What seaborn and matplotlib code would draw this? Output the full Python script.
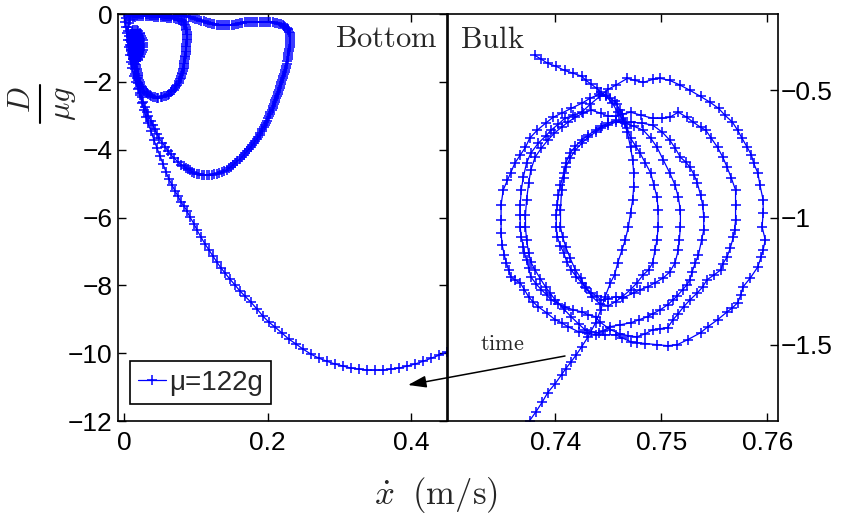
import numpy as np
import matplotlib
matplotlib.use('Agg')
import matplotlib.pyplot as plt
import seaborn as sns
from matplotlib.patches import FancyArrowPatch
from matplotlib.lines import Line2D

sns.set_style('ticks')
plt.rcParams['font.family'] = ['Liberation Sans', 'DejaVu Sans']
plt.rcParams['mathtext.fontset'] = 'cm'

# ---------------- data: (velocity m/s, D/(mu g)) ----------------
legend_label = 'μ=122g'

# Bulk (right panel), in time order
bulk_tail = [(0.7381,-0.363),(0.7387,-0.378),(0.7393,-0.394),(0.7401,-0.406),(0.7409,-0.422),(0.7417,-0.433),
             (0.7425,-0.445),(0.7429,-0.461),(0.7434,-0.476),(0.7439,-0.492),(0.7443,-0.508),(0.7448,-0.520),
             (0.7452,-0.531),(0.7456,-0.543),(0.7458,-0.555),(0.7461,-0.578),(0.7464,-0.610)]
bulk_loop5 = [(0.7468,-0.649),(0.7471,-0.688),(0.7476,-0.720),(0.7480,-0.747),(0.7485,-0.786),(0.7490,-0.825),
              (0.7493,-0.873),(0.7496,-0.920),(0.7497,-0.971),(0.7497,-1.037),(0.7496,-1.088),(0.7494,-1.127),
              (0.7492,-1.178),(0.7488,-1.206),(0.7483,-1.225),(0.7477,-1.257),(0.7471,-1.284),(0.7463,-1.312),
              (0.7457,-1.331),(0.7450,-1.347),(0.7442,-1.339),(0.7435,-1.312),(0.7428,-1.273),(0.7424,-1.237),
              (0.7419,-1.206),(0.7414,-1.159),(0.7410,-1.116),(0.7407,-1.076),(0.7405,-1.037),(0.7405,-0.971),
              (0.7406,-0.892),(0.7408,-0.845),(0.7410,-0.802),(0.7414,-0.767),(0.7419,-0.735),(0.7425,-0.708),
              (0.7431,-0.684),(0.7438,-0.665),(0.7443,-0.649),(0.7450,-0.637),(0.7457,-0.625)]
bulk_loop4 = [(0.7466,-0.629),(0.7474,-0.641),(0.7483,-0.657),(0.7490,-0.688),(0.7496,-0.724),(0.7502,-0.775),
              (0.7508,-0.825),(0.7513,-0.873),(0.7516,-0.920),(0.7518,-0.971),(0.7518,-1.037),(0.7517,-1.088),
              (0.7516,-1.127),(0.7513,-1.178),(0.7508,-1.214),(0.7502,-1.237),(0.7494,-1.257),(0.7487,-1.273),
              (0.7480,-1.284),(0.7474,-1.296),(0.7464,-1.316),(0.7457,-1.312),(0.7450,-1.320),(0.7443,-1.324),
              (0.7439,-1.308),(0.7434,-1.296),(0.7429,-1.276),(0.7425,-1.257),(0.7420,-1.233),(0.7415,-1.206),
              (0.7411,-1.175),(0.7408,-1.139),(0.7405,-1.112),(0.7402,-1.076),(0.7401,-1.037),(0.7401,-0.990),
              (0.7402,-0.951),(0.7403,-0.912),(0.7405,-0.873),(0.7408,-0.825),(0.7410,-0.786),(0.7414,-0.747),
              (0.7419,-0.720),(0.7425,-0.696),(0.7431,-0.676),(0.7438,-0.657),(0.7444,-0.641),(0.7450,-0.629),
              (0.7457,-0.618)]
bulk_loop3 = [(0.7463,-0.625),(0.7471,-0.625),(0.7482,-0.629),(0.7492,-0.637),(0.7501,-0.665),(0.7508,-0.696),
              (0.7513,-0.727),(0.7518,-0.763),(0.7523,-0.782),(0.7527,-0.802),(0.7531,-0.833),(0.7534,-0.865),
              (0.7537,-0.912),(0.7539,-0.951),(0.7540,-0.998),(0.7540,-1.049),(0.7538,-1.088),(0.7535,-1.147),
              (0.7532,-1.178),(0.7529,-1.214),(0.7527,-1.245),(0.7524,-1.265),(0.7520,-1.284),(0.7515,-1.308),
              (0.7511,-1.324),(0.7506,-1.343),(0.7499,-1.363),(0.7492,-1.378),(0.7487,-1.390),(0.7479,-1.402),
              (0.7471,-1.414),(0.7461,-1.422),(0.7452,-1.429),(0.7445,-1.445),(0.7441,-1.453),(0.7434,-1.449),
              (0.7428,-1.441),(0.7422,-1.418),(0.7415,-1.390),(0.7408,-1.359),(0.7400,-1.324),(0.7395,-1.296),
              (0.7391,-1.273),(0.7386,-1.241),(0.7381,-1.206),(0.7377,-1.175),(0.7375,-1.139),(0.7373,-1.088),
              (0.7372,-1.037),(0.7372,-0.990),(0.7373,-0.931),(0.7375,-0.865),(0.7377,-0.814),(0.7381,-0.763),
              (0.7387,-0.727),(0.7393,-0.696),(0.7399,-0.669),(0.7406,-0.645),(0.7412,-0.625),(0.7419,-0.606),
              (0.7426,-0.590),(0.7434,-0.578),(0.7443,-0.590),(0.7450,-0.602)]
bulk_loop2 = [(0.7457,-0.602),(0.7463,-0.594),(0.7471,-0.586),(0.7481,-0.598),(0.7492,-0.610),(0.7501,-0.610),
              (0.7508,-0.606),(0.7516,-0.586),(0.7524,-0.606),(0.7530,-0.625),(0.7537,-0.645),(0.7542,-0.657),
              (0.7547,-0.688),(0.7553,-0.724),(0.7558,-0.763),(0.7562,-0.802),(0.7566,-0.845),(0.7570,-0.892),
              (0.7570,-0.951),(0.7570,-1.010),(0.7569,-1.049),(0.7568,-1.076),(0.7565,-1.120),(0.7562,-1.155),
              (0.7558,-1.182),(0.7556,-1.206),(0.7550,-1.225),(0.7543,-1.245),(0.7539,-1.273),(0.7534,-1.296),
              (0.7527,-1.324),(0.7521,-1.351),(0.7516,-1.378),(0.7511,-1.402),(0.7506,-1.433),(0.7499,-1.437),
              (0.7492,-1.441),(0.7485,-1.457),(0.7477,-1.469),(0.7469,-1.465),(0.7461,-1.457),(0.7452,-1.441),
              (0.7442,-1.410),(0.7438,-1.390),(0.7431,-1.382),(0.7425,-1.371),(0.7417,-1.363),(0.7409,-1.351),
              (0.7403,-1.339),(0.7396,-1.324),(0.7392,-1.304),(0.7387,-1.284),(0.7382,-1.261),(0.7377,-1.233),
              (0.7375,-1.198),(0.7373,-1.167),(0.7371,-1.139),(0.7370,-1.116),(0.7368,-1.076),(0.7367,-1.037),
              (0.7367,-0.990),(0.7367,-0.951),(0.7368,-0.892),(0.7370,-0.841),(0.7373,-0.786),(0.7377,-0.747),
              (0.7384,-0.708),(0.7391,-0.680),(0.7396,-0.657),(0.7403,-0.633),(0.7409,-0.610),(0.7417,-0.598),
              (0.7425,-0.586),(0.7433,-0.555),(0.7442,-0.524)]
bulk_loop1 = [(0.7450,-0.496),(0.7457,-0.480),(0.7468,-0.453),(0.7475,-0.461),(0.7483,-0.469),(0.7492,-0.457),
              (0.7499,-0.453),(0.7508,-0.461),(0.7518,-0.480),(0.7527,-0.500),(0.7537,-0.524),(0.7546,-0.547),
              (0.7554,-0.571),(0.7560,-0.598),(0.7567,-0.625),(0.7572,-0.657),(0.7576,-0.688),(0.7581,-0.724),
              (0.7585,-0.755),(0.7587,-0.786),(0.7591,-0.825),(0.7593,-0.873),(0.7596,-0.931),(0.7596,-0.982),
              (0.7595,-1.037),(0.7598,-1.088),(0.7596,-1.127),(0.7594,-1.155),(0.7591,-1.194),(0.7584,-1.237),
              (0.7577,-1.273),(0.7575,-1.304),(0.7572,-1.335),(0.7567,-1.355),(0.7562,-1.371),(0.7553,-1.402),
              (0.7544,-1.429),(0.7537,-1.453),(0.7525,-1.480),(0.7515,-1.500),(0.7506,-1.504),(0.7496,-1.500),
              (0.7485,-1.496),(0.7477,-1.492),(0.7471,-1.488),(0.7463,-1.473),(0.7457,-1.461),(0.7447,-1.461),
              (0.7438,-1.461),(0.7430,-1.453),(0.7422,-1.449),(0.7412,-1.429),(0.7406,-1.414),(0.7400,-1.402),
              (0.7392,-1.375),(0.7384,-1.351),(0.7379,-1.331),(0.7375,-1.312),(0.7371,-1.284),(0.7367,-1.257),
              (0.7362,-1.245),(0.7358,-1.233),(0.7356,-1.206),(0.7354,-1.178),(0.7352,-1.147),(0.7350,-1.108),
              (0.7349,-1.061),(0.7349,-1.010),(0.7349,-0.951),(0.7351,-0.892),(0.7355,-0.853),(0.7358,-0.825),
              (0.7362,-0.786),(0.7367,-0.755),(0.7372,-0.724),(0.7376,-0.688),(0.7383,-0.657),(0.7391,-0.629),
              (0.7398,-0.606),(0.7406,-0.590),(0.7415,-0.571),(0.7425,-0.551),(0.7433,-0.531),(0.7441,-0.516),
              (0.7448,-0.524),(0.7454,-0.551)]
bulk_exit = [(0.7459,-0.586),(0.7464,-0.618),(0.7468,-0.665),(0.7471,-0.724),(0.7473,-0.775),(0.7474,-0.825),
             (0.7474,-0.880),(0.7473,-0.931),(0.7471,-0.982),(0.7469,-1.037),(0.7466,-1.088),(0.7463,-1.127),
             (0.7459,-1.178),(0.7456,-1.225),(0.7452,-1.257),(0.7447,-1.312),(0.7443,-1.363),(0.7438,-1.414),
             (0.7431,-1.469),(0.7425,-1.508),(0.7420,-1.539),(0.7415,-1.567),(0.7410,-1.594),(0.7406,-1.618),
             (0.7400,-1.653),(0.7393,-1.688),(0.7388,-1.724),(0.7382,-1.763),(0.7376,-1.798),(0.7371,-1.833)]

# Bottom (left panel), in time order
bottom_fall = [(0.463,-9.84),(0.4502,-9.97),(0.4390,-10.06),(0.4279,-10.15),(0.4167,-10.24),(0.4056,-10.32),
               (0.3944,-10.38),(0.3833,-10.44),(0.3721,-10.47),(0.3610,-10.50),(0.3498,-10.50),(0.3387,-10.50),
               (0.3275,-10.47),(0.3164,-10.44),(0.3052,-10.38),(0.2941,-10.32),(0.2829,-10.24),(0.2718,-10.15),
               (0.2606,-10.03),(0.2495,-9.88),(0.2397,-9.73),(0.2300,-9.59),(0.2202,-9.41),(0.2105,-9.23),
               (0.2021,-9.09),(0.1937,-8.91),(0.1854,-8.70),(0.1770,-8.50),(0.1686,-8.32),(0.1617,-8.17),
               (0.1547,-7.99),(0.1477,-7.82),(0.1408,-7.64),(0.1352,-7.49),(0.1296,-7.32),(0.1240,-7.14),
               (0.1185,-6.96),(0.1129,-6.78),(0.1073,-6.58),(0.1017,-6.37),(0.0976,-6.19),(0.0920,-5.99),
               (0.0878,-5.81),(0.0836,-5.66),(0.0794,-5.55),(0.0753,-5.37),(0.0711,-5.22),(0.0669,-5.04),
               (0.0627,-4.87),(0.0585,-4.66),(0.0544,-4.42),(0.0502,-4.19),(0.0460,-3.95),(0.0418,-3.72),
               (0.0376,-3.45),(0.0334,-3.22),(0.0307,-3.04),(0.0279,-2.83),(0.0251,-2.63),(0.0223,-2.39),
               (0.0195,-2.21),(0.0167,-2.01),(0.0139,-1.83),(0.0111,-1.59),(0.0098,-1.42),(0.0084,-1.21),
               (0.0070,-0.97),(0.0056,-0.77),(0.0042,-0.56),(0.0028,-0.38),(0.0014,-0.24),(0.0028,-0.12)]
bottom_loopA = [(0.006,-0.05),(0.009,-0.04),(0.012,-0.03),(0.015,-0.02),(0.018,-0.02),(0.021,-0.01),(0.024,-0.01),
                (0.027,-0.01),(0.030,-0.01),(0.033,-0.01),(0.036,-0.02),(0.039,-0.02),(0.042,-0.03),(0.045,-0.03),
                (0.048,-0.04),(0.051,-0.04),(0.054,-0.05),(0.057,-0.05),(0.060,-0.06),(0.063,-0.06),(0.066,-0.06),
                (0.069,-0.06),(0.072,-0.05),(0.075,-0.05),(0.078,-0.04),(0.081,-0.04),(0.084,-0.05),(0.087,-0.06),
                (0.090,-0.08),(0.093,-0.10),(0.096,-0.12),(0.099,-0.14),(0.102,-0.16),(0.105,-0.18),(0.108,-0.20),
                (0.111,-0.22),(0.114,-0.24),(0.117,-0.26),(0.120,-0.27),(0.123,-0.29),(0.126,-0.30),(0.129,-0.31),
                (0.132,-0.32),(0.135,-0.33),(0.138,-0.33),(0.141,-0.33),(0.144,-0.33),(0.147,-0.33),(0.150,-0.32),
                (0.153,-0.31),(0.156,-0.30),(0.159,-0.28),(0.162,-0.27),(0.165,-0.26),(0.168,-0.25),(0.171,-0.24),
                (0.174,-0.24),(0.177,-0.23),(0.180,-0.23),(0.183,-0.23),(0.186,-0.23),(0.189,-0.23),(0.192,-0.24),
                (0.195,-0.24),(0.198,-0.24),(0.201,-0.24),(0.204,-0.24),(0.207,-0.25),(0.210,-0.26),(0.213,-0.27),
                (0.216,-0.28),(0.219,-0.30),(0.221,-0.32),(0.223,-0.34),(0.225,-0.37),(0.227,-0.40),(0.228,-0.44),
                (0.229,-0.48),(0.230,-0.52),(0.231,-0.57),(0.231,-0.62),(0.231,-0.68),(0.231,-0.74),(0.231,-0.80),
                (0.231,-0.86),(0.231,-0.92),(0.231,-0.98),(0.230,-1.04),(0.230,-1.10),(0.229,-1.16),(0.229,-1.22),
                (0.228,-1.28),(0.228,-1.34),(0.227,-1.40),(0.227,-1.46),(0.226,-1.52),(0.226,-1.58),(0.225,-1.64),
                (0.224,-1.70),(0.223,-1.76),(0.222,-1.82),(0.221,-1.88),(0.220,-1.94),(0.219,-2.00),(0.219,-2.06),
                (0.218,-2.12),(0.217,-2.18),(0.216,-2.24),(0.215,-2.30),(0.214,-2.36),(0.213,-2.42),(0.212,-2.48),
                (0.211,-2.54),(0.210,-2.60),(0.209,-2.66),(0.208,-2.72),(0.207,-2.78),(0.206,-2.84),(0.204,-2.90),
                (0.203,-2.96),(0.202,-3.02),(0.200,-3.08),(0.199,-3.14),(0.198,-3.20),(0.196,-3.26),(0.195,-3.32),
                (0.193,-3.38),(0.192,-3.44),(0.190,-3.50),(0.189,-3.56),(0.187,-3.62),(0.185,-3.68),(0.183,-3.74),
                (0.181,-3.80),(0.179,-3.86),(0.177,-3.92),(0.174,-3.98),(0.172,-4.04),(0.169,-4.10),(0.167,-4.16),
                (0.164,-4.22),(0.161,-4.28),(0.158,-4.34),(0.155,-4.40),(0.152,-4.45),(0.149,-4.50),(0.146,-4.55),
                (0.143,-4.59),(0.140,-4.63),(0.137,-4.66),(0.133,-4.69),(0.130,-4.71),(0.126,-4.73),(0.123,-4.74),
                (0.119,-4.75),(0.116,-4.75),(0.112,-4.75),(0.109,-4.74),(0.105,-4.73),(0.102,-4.71),(0.098,-4.68),
                (0.095,-4.65),(0.092,-4.61),(0.089,-4.57),(0.086,-4.53),(0.083,-4.49),(0.080,-4.45),
                (0.075,-4.36),(0.070,-4.25),(0.065,-4.14),(0.061,-4.03),(0.057,-3.91),(0.053,-3.79),(0.049,-3.66),
                (0.046,-3.53),(0.043,-3.40),(0.040,-3.27),(0.037,-3.14),(0.034,-3.01),(0.032,-2.88),(0.029,-2.74),
                (0.027,-2.60),(0.025,-2.46),(0.023,-2.32),(0.021,-2.18),(0.019,-2.04),(0.018,-1.90),(0.016,-1.76),
                (0.015,-1.62),(0.013,-1.48),(0.012,-1.34),(0.011,-1.20),(0.010,-1.06),(0.009,-0.92),(0.008,-0.78),
                (0.007,-0.64),(0.006,-0.50),(0.006,-0.38),(0.007,-0.27),(0.009,-0.18)]
bottom_loopB = [(0.012,-0.10),(0.015,-0.08),(0.018,-0.07),(0.021,-0.06),(0.024,-0.06),(0.027,-0.06),(0.030,-0.06),
                (0.033,-0.06),(0.036,-0.07),(0.039,-0.07),(0.042,-0.08),(0.045,-0.08),(0.048,-0.09),(0.051,-0.09),
                (0.054,-0.10),(0.057,-0.10),(0.060,-0.11),(0.063,-0.11),(0.066,-0.12),(0.069,-0.13),(0.072,-0.14),
                (0.075,-0.15),(0.077,-0.17),(0.079,-0.19),(0.081,-0.22),(0.083,-0.25),(0.084,-0.29),(0.085,-0.33),
                (0.086,-0.38),(0.087,-0.43),(0.087,-0.48),(0.088,-0.53),(0.088,-0.58),(0.088,-0.63),(0.088,-0.68),
                (0.088,-0.73),(0.088,-0.78),(0.088,-0.83),(0.087,-0.88),(0.087,-0.93),(0.087,-0.98),(0.087,-1.03),
                (0.086,-1.08),(0.086,-1.13),(0.086,-1.18),(0.085,-1.23),(0.085,-1.28),(0.085,-1.33),(0.084,-1.38),
                (0.084,-1.43),(0.084,-1.48),(0.083,-1.53),(0.083,-1.58),(0.082,-1.63),(0.082,-1.68),(0.081,-1.73),
                (0.081,-1.78),(0.080,-1.83),(0.079,-1.88),(0.078,-1.93),(0.077,-1.98),(0.076,-2.03),(0.074,-2.08),
                (0.073,-2.13),(0.071,-2.18),(0.069,-2.23),(0.067,-2.27),(0.065,-2.31),(0.063,-2.35),(0.061,-2.38),
                (0.058,-2.41),(0.056,-2.43),(0.053,-2.45),(0.051,-2.46),(0.048,-2.47),(0.046,-2.47),(0.043,-2.46),
                (0.041,-2.45),(0.038,-2.43),(0.036,-2.40),(0.034,-2.37),(0.032,-2.34),(0.030,-2.30),(0.028,-2.26),
                (0.027,-2.21),(0.025,-2.16),(0.024,-2.11),(0.023,-2.06),(0.022,-2.01),(0.021,-1.95),(0.020,-1.90),
                (0.020,-1.84),(0.019,-1.79),(0.019,-1.73),(0.018,-1.68),(0.018,-1.62),(0.017,-1.57),(0.017,-1.51),
                (0.016,-1.46),(0.016,-1.40),(0.015,-1.35),(0.015,-1.29),(0.014,-1.24),(0.014,-1.18),(0.013,-1.13),
                (0.013,-1.07),(0.012,-1.02),(0.012,-0.96),(0.011,-0.91),(0.011,-0.85),(0.010,-0.80),(0.010,-0.74),
                (0.010,-0.69),(0.010,-0.63),(0.010,-0.58)]
bottom_settle = [(0.011,-0.52),(0.013,-0.48),(0.016,-0.46),(0.018,-0.47),(0.020,-0.50),(0.022,-0.55),(0.023,-0.60),
                 (0.024,-0.66),(0.025,-0.72),(0.026,-0.78),(0.026,-0.85),(0.026,-0.92),(0.026,-0.98),(0.026,-1.05),
                 (0.025,-1.11),(0.024,-1.17),(0.023,-1.23),(0.022,-1.28),(0.020,-1.33),(0.019,-1.36),(0.017,-1.38),
                 (0.015,-1.38),(0.014,-1.36),(0.013,-1.32),(0.012,-1.28),(0.011,-1.22),(0.011,-1.16),(0.010,-1.10),
                 (0.010,-1.03),(0.010,-0.96),(0.010,-0.90),(0.010,-0.83),(0.011,-0.77),(0.012,-0.71),(0.013,-0.66),
                 (0.014,-0.62),(0.016,-0.60),(0.018,-0.60),(0.019,-0.62),(0.020,-0.66),(0.021,-0.70),(0.022,-0.75),
                 (0.023,-0.81),(0.023,-0.87),(0.023,-0.93),(0.023,-0.99),(0.022,-1.05),(0.021,-1.11),(0.020,-1.16),
                 (0.019,-1.20),(0.018,-1.23),(0.016,-1.24),(0.015,-1.24),(0.014,-1.21),(0.013,-1.17),(0.012,-1.12),
                 (0.012,-1.06),(0.012,-1.00),(0.012,-0.95),(0.012,-0.89),(0.013,-0.84),(0.014,-0.80),(0.015,-0.76),
                 (0.016,-0.75),(0.017,-0.74),(0.018,-0.76),(0.019,-0.79),(0.020,-0.83),(0.020,-0.88),(0.020,-0.93),
                 (0.020,-0.98),(0.020,-1.03),(0.019,-1.07),(0.018,-1.10),(0.017,-1.12),(0.016,-1.12),(0.015,-1.10),
                 (0.014,-1.06),(0.014,-1.02),(0.014,-0.97),(0.014,-0.93),(0.015,-0.89),(0.015,-0.87),(0.016,-0.86),
                 (0.017,-0.88),(0.018,-0.91),(0.018,-0.95),(0.018,-0.98),(0.017,-1.01),(0.016,-1.01),(0.016,-0.98)]

# ticks
bottom_xticks = [0, 0.2, 0.4]
bottom_xticklabels = ['0', '0.2', '0.4']
bottom_yticks = [-12, -10, -8, -6, -4, -2, 0]
bottom_yticklabels = ['\u221212', '\u221210', '\u22128', '\u22126', '\u22124', '\u22122', '0']
bulk_xticks = [0.74, 0.75, 0.76]
bulk_xticklabels = ['0.74', '0.75', '0.76']
bulk_yticks = [-1.5, -1.0, -0.5]
bulk_yticklabels = ['\u22121.5', '\u22121', '\u22120.5']


def unzip(*segs):
    pts = [p for s in segs for p in s]
    return np.array([p[0] for p in pts]), np.array([p[1] for p in pts])


fig = plt.figure(figsize=(8.42, 5.15), dpi=100)
axL = fig.add_axes([0.1401, 0.1825, 0.3907, 0.7903])
axR = fig.add_axes([0.5321, 0.1825, 0.3919, 0.7903])

line_kw = dict(color='#0000ff', marker='+', markersize=7, markeredgewidth=1.1,
               markeredgecolor='#0000ff', linewidth=0.9, sort=False, estimator=None,
               errorbar=None)

bx, by = unzip(bottom_fall, bottom_loopA, bottom_loopB, bottom_settle)
sns.lineplot(x=bx, y=by, ax=axL, label=legend_label, **line_kw)
ux, uy = unzip(bulk_tail, bulk_loop5, bulk_loop4, bulk_loop3, bulk_loop2, bulk_loop1, bulk_exit)
sns.lineplot(x=ux, y=uy, ax=axR, legend=False, **line_kw)

for ax in (axL, axR):
    ax.set_xlabel('')
    ax.set_ylabel('')
    for s in ax.spines.values():
        s.set_visible(True)
        s.set_color('black')
        s.set_linewidth(1.2)

axL.set_xlim(-0.0084, 0.450)
axL.set_ylim(-12, 0)
axL.set_xticks(bottom_xticks)
axL.set_xticklabels(bottom_xticklabels)
axL.set_yticks(bottom_yticks)
axL.set_yticklabels(bottom_yticklabels)
axL.tick_params(direction='in', length=6, width=1, top=True, right=True,
                labelsize=19, colors='black')
axL.tick_params(axis='x', pad=7)
axL.tick_params(axis='y', pad=4)

axR.set_xlim(0.7299, 0.761)
axR.set_ylim(-1.8, -0.2)
axR.set_xticks(bulk_xticks)
axR.set_xticklabels(bulk_xticklabels)
axR.set_yticks(bulk_yticks)
axR.set_yticklabels(bulk_yticklabels)
axR.yaxis.tick_right()
axR.tick_params(direction='in', length=6, width=1, labelsize=19, colors='black')
axR.tick_params(axis='x', top=True, bottom=True, pad=7)
axR.tick_params(axis='y', left=False, right=True, labelleft=False, labelright=True, pad=2)

leg = axL.legend(loc='lower left', bbox_to_anchor=(0.036, 0.042), borderaxespad=0,
                 frameon=True, fancybox=False, edgecolor='black', framealpha=1,
                 fontsize=20, handlelength=1.0, handletextpad=0.1, borderpad=0.3,
                 numpoints=1)
leg.get_frame().set_linewidth(1.2)

axL.text(0.973, 0.919, r'$\mathrm{Bottom}$', transform=axL.transAxes,
         ha='right', va='baseline', fontsize=22)
axR.text(0.036, 0.916, r'$\mathrm{Bulk}$', transform=axR.transAxes,
         ha='left', va='baseline', fontsize=22)
fig.text(0.597, 0.320, r'$\mathrm{time}$', ha='center', va='baseline', fontsize=16)

arrow = FancyArrowPatch(posA=(565 / 842, 1 - 356 / 515), posB=(408 / 842, 1 - 385 / 515),
                        transform=fig.transFigure, arrowstyle='-|>,head_length=0.55,head_width=0.18',
                        mutation_scale=20, color='black', lw=1.1, shrinkA=0, shrinkB=0)
fig.add_artist(arrow)

# x label
fig.text(0.518, 0.021, r'$\dot{x}\;\ \mathrm{(m/s)}$', ha='center', va='baseline', fontsize=25)

# y label: fraction D / (mu g), rotated
fig.text(22.5 / 842, 1 - 100 / 515, r'$D$', rotation=90, ha='center', va='center', fontsize=22)
fig.text(63.5 / 842, 1 - 104 / 515, r'$\mu g$', rotation=90, ha='center', va='center', fontsize=22)
fig.add_artist(Line2D([40 / 842, 40 / 842], [1 - 85 / 515, 1 - 123 / 515],
                      transform=fig.transFigure, color='black', lw=1.5))

fig.savefig('out.png', dpi=100)
